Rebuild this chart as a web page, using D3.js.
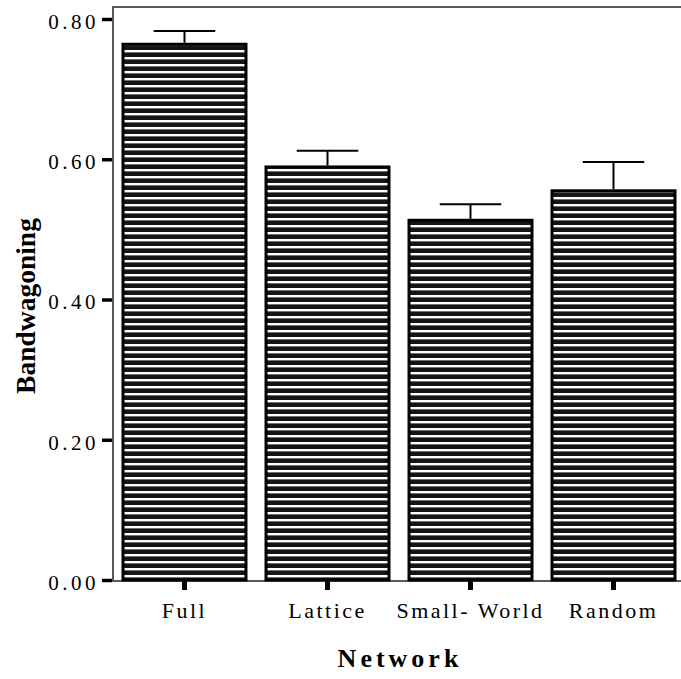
<!DOCTYPE html>
<html>
<head>
<meta charset="utf-8">
<script src="https://cdn.jsdelivr.net/npm/d3@7"></script>
<style>
  html, body { margin: 0; padding: 0; background: #fff; }
  svg { display: block; }
</style>
</head>
<body>
<div id="chart"></div>
<script>
/*****************************************************
 * DATA
 *****************************************************/
const networks = ["Full", "Lattice", "Small- World", "Random"];
const bandwagoning = [0.764, 0.589, 0.513, 0.555];
const errorUp = [0.019, 0.023, 0.023, 0.041];
const yTicks = [0.0, 0.2, 0.4, 0.6, 0.8];

function renderChart() {

  const width = 681;
  const height = 679;

  const svg = d3.select("#chart")
    .append("svg")
    .attr("width", width)
    .attr("height", height);

  // plot frame (right side runs off the picture)
  const left = 113, right = 685, bottom = 581, top = 7;

  const x = d3.scaleBand()
    .domain(networks)
    .range([left, right])
    .paddingInner(0.14)
    .paddingOuter(0.07);

  const y = d3.scaleLinear()
    .domain([0, 0.8])
    .range([580, 19]);

  /*****************************************************
   * HATCH PATTERN
   *****************************************************/
  const pat = svg.append("defs")
    .append("pattern")
    .attr("id", "hatch")
    .attr("patternUnits", "userSpaceOnUse")
    .attr("width", 7)
    .attr("height", 7);

  pat.append("rect")
    .attr("width", 7).attr("height", 7)
    .attr("fill", "#151515");

  pat.append("rect")
    .attr("y", 1)
    .attr("width", 7).attr("height", 2.4)
    .attr("fill", "#fff");

  /*****************************************************
   * FRAME
   *****************************************************/
  svg.append("rect")
    .attr("x", left)
    .attr("y", top)
    .attr("width", right - left)
    .attr("height", bottom - top)
    .attr("fill", "none")
    .attr("stroke", "#5a5a5a")
    .attr("stroke-width", 2);

  /*****************************************************
   * BARS
   *****************************************************/
  const data = networks.map((n, i) => ({
    name: n, value: bandwagoning[i], err: errorUp[i]
  }));

  const bars = svg.selectAll(".bar")
    .data(data)
    .enter()
    .append("g");

  bars.append("rect")
    .attr("x", d => x(d.name))
    .attr("y", d => y(d.value))
    .attr("width", x.bandwidth())
    .attr("height", d => y(0) - y(d.value))
    .attr("fill", "url(#hatch)")
    .attr("stroke", "#000")
    .attr("stroke-width", 3);

  // error bars (upper only)
  const cx = d => x(d.name) + x.bandwidth() / 2;
  const capHalf = x.bandwidth() * 0.25;

  bars.append("line")
    .attr("x1", cx).attr("x2", cx)
    .attr("y1", d => y(d.value) - 1.5)
    .attr("y2", d => y(d.value + d.err))
    .attr("stroke", "#000")
    .attr("stroke-width", 2);

  bars.append("line")
    .attr("x1", d => cx(d) - capHalf)
    .attr("x2", d => cx(d) + capHalf)
    .attr("y1", d => y(d.value + d.err))
    .attr("y2", d => y(d.value + d.err))
    .attr("stroke", "#000")
    .attr("stroke-width", 2);

  /*****************************************************
   * Y AXIS
   *****************************************************/
  const yAxis = svg.append("g")
    .attr("transform", `translate(${left - 1},0)`)
    .call(d3.axisLeft(y)
      .tickValues(yTicks)
      .tickFormat(d3.format(".2f"))
      .tickSize(10)
      .tickPadding(6));

  yAxis.select(".domain").remove();
  yAxis.selectAll(".tick line")
    .attr("stroke", "#000")
    .attr("stroke-width", 3.5);
  yAxis.selectAll(".tick text")
    .attr("font-family", "'Liberation Serif', 'DejaVu Serif', serif")
    .attr("font-size", "21px")
    .attr("letter-spacing", "3.5px")
    .attr("fill", "#000")
    .attr("dx", "3px")
    .attr("dy", "0.45em");

  /*****************************************************
   * X AXIS
   *****************************************************/
  const xAxis = svg.append("g")
    .attr("transform", `translate(0,${bottom})`)
    .call(d3.axisBottom(x)
      .tickSize(9)
      .tickPadding(12));

  xAxis.select(".domain").remove();
  xAxis.selectAll(".tick line")
    .attr("stroke", "#000")
    .attr("stroke-width", 5);
  xAxis.selectAll(".tick text")
    .attr("font-family", "'Liberation Serif', 'DejaVu Serif', serif")
    .attr("font-size", "22px")
    .attr("letter-spacing", "2.5px")
    .attr("fill", "#000");

  /*****************************************************
   * AXIS TITLES
   *****************************************************/
  svg.append("text")
    .attr("x", 400)
    .attr("y", 667)
    .attr("text-anchor", "middle")
    .attr("font-family", "'Liberation Serif', 'DejaVu Serif', serif")
    .attr("font-size", "26px")
    .attr("font-weight", "bold")
    .attr("letter-spacing", "4px")
    .attr("fill", "#000")
    .text("Network");

  svg.append("text")
    .attr("transform", "translate(35,306) rotate(-90)")
    .attr("text-anchor", "middle")
    .attr("font-family", "'Liberation Serif', 'DejaVu Serif', serif")
    .attr("font-size", "27.5px")
    .attr("font-weight", "bold")
    .attr("fill", "#000")
    .text("Bandwagoning");
}

renderChart();
</script>
</body>
</html>
